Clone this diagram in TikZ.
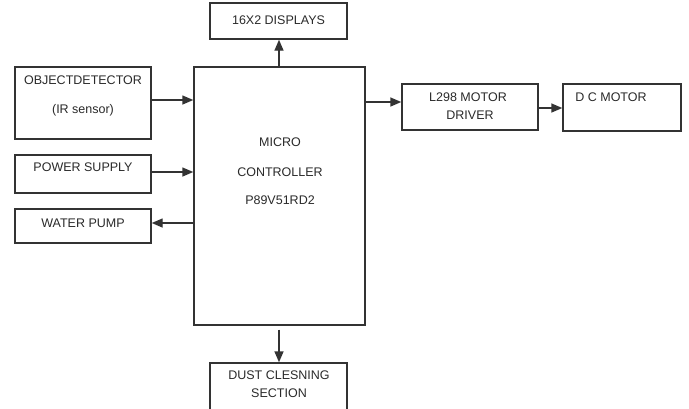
\documentclass[tikz,border=0pt]{standalone}
\usepackage{fontspec}
\setmainfont{Liberation Sans}
\usetikzlibrary{arrows.meta}
\definecolor{ln}{HTML}{333333}
\definecolor{tx}{HTML}{2A2A2A}
\tikzset{
  blk/.style={draw=ln, line width=1.4pt, minimum width=#1, inner sep=0pt},
  blk/.default=136pt,
  lbl/.style={text=tx, font=\fontsize{12.5}{15}\selectfont, inner sep=0pt, anchor=center},
  arr/.style={draw=ln, line width=1.4pt, -{Triangle[length=11pt,width=9pt]}}
}
\begin{document}
\begin{tikzpicture}[x=1pt,y=-1pt]
\clip (0,0) rectangle (689,408);
\fill[white] (0,0) rectangle (689,408);
% boxes
\node[blk=137pt, minimum height=36pt] (disp) at (278.5,21) {};
\node[blk=171pt, minimum height=258pt] (mc) at (279.5,196) {};
\node[blk, minimum height=72pt] (od) at (83,103) {};
\node[blk, minimum height=38pt] (ps) at (83,174) {};
\node[blk, minimum height=34pt] (wp) at (83,226) {};
\node[blk, minimum height=46pt] (drv) at (470,107) {};
\node[blk=118pt, minimum height=47pt] (dcm) at (622,107.5) {};
\node[blk=137pt, minimum height=60pt] (dust) at (278.5,393) {};
% texts
\node[lbl] (tdisp) at (278.5,20) {16X2 DISPLAYS};
\node[lbl] (tod1) at (83,80) {OBJECTDETECTOR};
\node[lbl] (tod2) at (83,110) {(IR sensor)};
\node[lbl] (tps) at (83,167) {POWER SUPPLY};
\node[lbl] (twp) at (83,223) {WATER PUMP};
\node[lbl] (tmc1) at (280,142) {MICRO};
\node[lbl] (tmc2) at (280,172) {CONTROLLER};
\node[lbl] (tmc3) at (280,200) {P89V51RD2};
\node[lbl] (tdrv1) at (468,97) {L298 MOTOR};
\node[lbl] (tdrv2) at (470,115) {DRIVER};
\node[lbl] (tdcm) at (611,97) {D C MOTOR};
\node[lbl] (tdust1) at (279,375) {DUST CLESNING};
\node[lbl] (tdust2) at (279,393) {SECTION};
% connectors
\draw[arr] (mc.north -| 279,0) -- (disp.south -| 279,0);
\draw[arr] (od.east |- 0,100) -- (mc.west |- 0,100);
\draw[arr] (ps.east |- 0,172) -- (mc.west |- 0,172);
\draw[arr] (mc.west |- 0,223) -- (wp.east |- 0,223);
\draw[arr] (mc.east |- 0,102) -- (drv.west |- 0,102);
\draw[arr] (drv.east |- 0,108) -- (dcm.west |- 0,108);
\draw[arr] ([yshift=-4pt]mc.south -| 279,0) -- (dust.north -| 279,0);
\end{tikzpicture}
\end{document}
